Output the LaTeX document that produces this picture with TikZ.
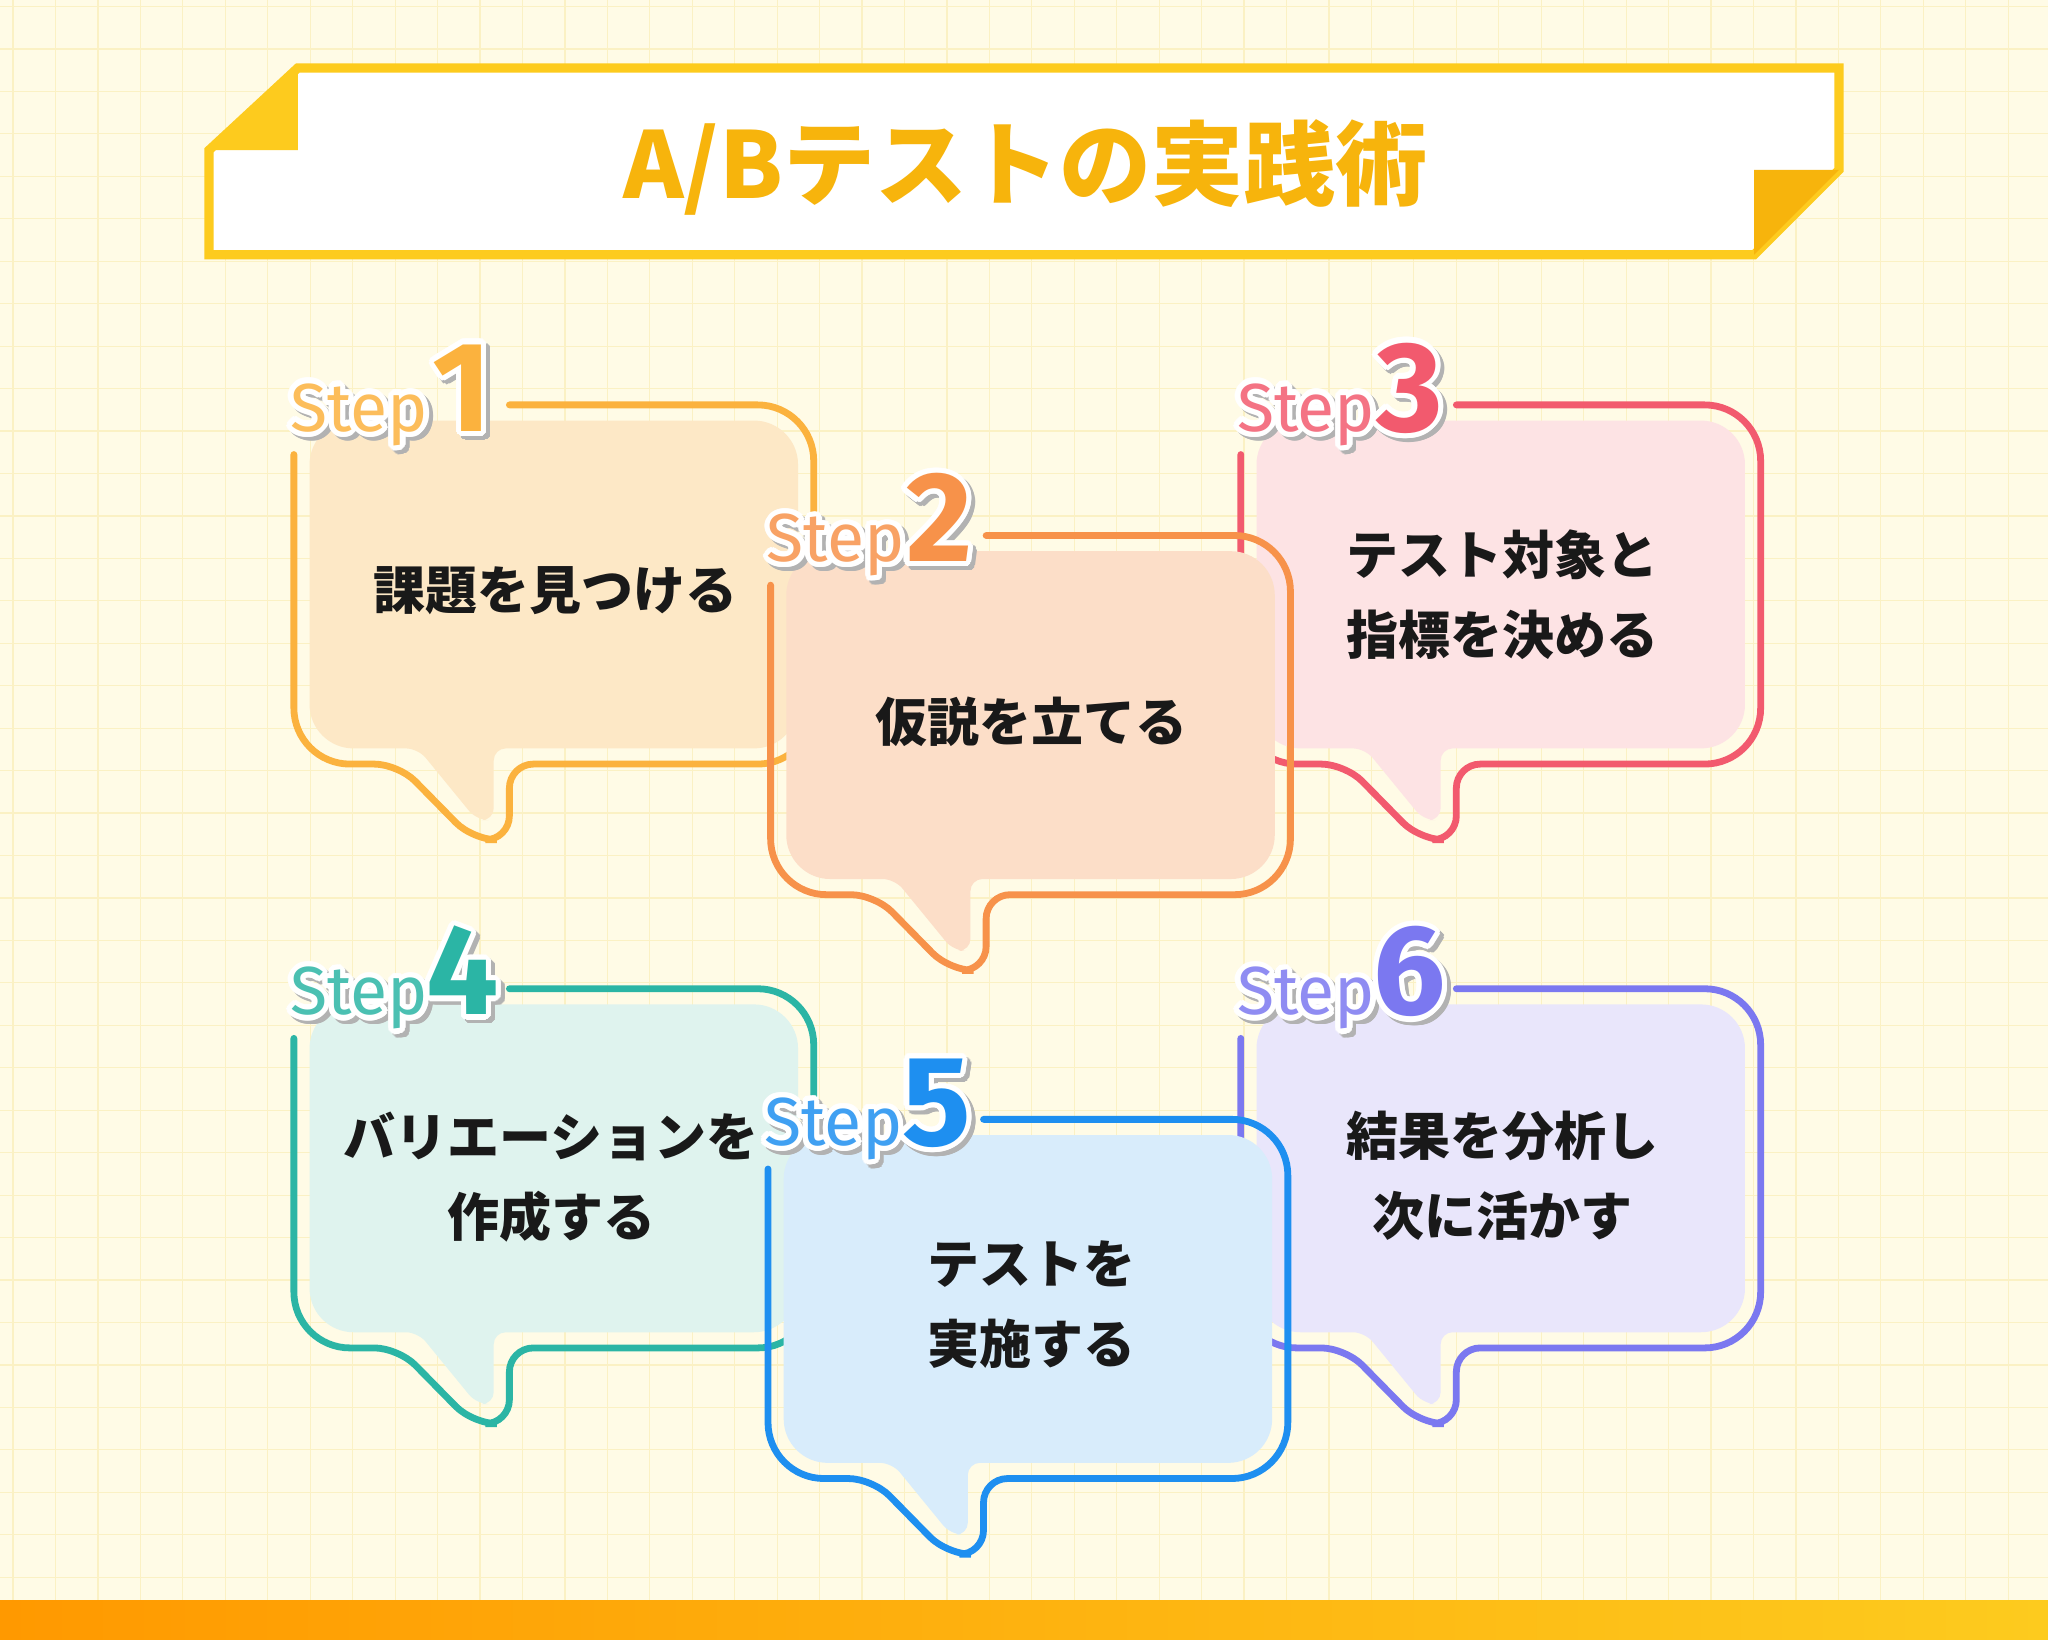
\documentclass[tikz,border=0pt]{standalone}
\usepackage{fontspec}
\setmainfont{Noto Sans CJK JP}
\newfontfamily\jp{Noto Sans CJK JP}
\newfontfamily\stepf{Fira Sans}
\usepackage[copies]{contour}
\contournumber{24}
\definecolor{bgc}{HTML}{FFFBE6}
\definecolor{gridc}{HTML}{FBF1C4}
\definecolor{tA}{HTML}{FBB23E}\definecolor{fA}{HTML}{FDE8C6}
\definecolor{tB}{HTML}{F7924A}\definecolor{fB}{HTML}{FCDEC8}
\definecolor{tC}{HTML}{F25A6E}\definecolor{fC}{HTML}{FDE3E4}
\definecolor{tD}{HTML}{2BB5A5}\definecolor{fD}{HTML}{DFF3EE}
\definecolor{tE}{HTML}{1E8FF0}\definecolor{fE}{HTML}{D8ECFB}
\definecolor{tF}{HTML}{7B78F0}\definecolor{fF}{HTML}{E9E6FB}
\definecolor{ttl}{HTML}{F7B40C}
\definecolor{frm}{HTML}{FDCB1E}
\newcommand{\bubble}[6]{%
\begin{scope}[shift={(#1,#2)}]
 \fill[#4] (12,120) [rounded corners=22] -- (12,12) -- (386,12) -- (386,263) [rounded corners=6] -- (153,263) -- (153,318) -- (140,318) -- (95,263) [rounded corners=22] -- (12,263) -- (12,120) -- cycle;
 \draw[#3,line width=3.4pt,line cap=round] (0,38) [rounded corners=28] -- (0,275) [rounded corners=12] -- (80,275) -- (137,333) -- (165,333) -- (165,275) [rounded corners=28] -- (398,275) -- (398,0) -- (165,0);
 \node[font=\stepf\fontsize{34}{34}\selectfont,text=gray!60,anchor=base] at (53,23) {\contourlength{2.6pt}\contour{gray!60}{Step}};
 \node[font=\stepf\fontsize{34}{34}\selectfont,text=#3!85,anchor=base] at (50,20) {\contourlength{2.6pt}\contour{white}{Step}};
 \node[font=\stepf\bfseries\fontsize{64}{64}\selectfont,text=gray!60,anchor=base] at (132,23) {\contourlength{2.6pt}\contour{gray!60}{#6}};
 \node[font=\stepf\bfseries\fontsize{64}{64}\selectfont,text=#3,anchor=base] at (129,20) {\contourlength{2.6pt}\contour{white}{#6}};
 \node (#5) at (200,140) {};
\end{scope}}
\tikzset{body/.style={font=\jp\bfseries\fontsize{26}{40}\selectfont,align=center,text=black!90}}
\begin{document}
\begin{tikzpicture}[x=0.653pt,y=-0.653pt]
\fill[bgc] (0,0) rectangle (1568,1255);
\useasboundingbox (0,0) rectangle (1568,1255);
\foreach \i in {0,...,48} \draw[gridc,line width=0.6pt] (\i*32.5+10,0) -- (\i*32.5+10,1255);
\foreach \i in {0,...,38} \draw[gridc,line width=0.6pt] (0,\i*32.5+5) -- (1568,\i*32.5+5);
% title banner
\fill[white] (228,52) -- (1408,52) -- (1408,130) -- (1343,195) -- (160,195) -- (160,115) -- cycle;
\draw[frm,line width=4.6pt,line join=miter] (228,52) -- (1408,52) -- (1408,130) -- (1343,195) -- (160,195) -- (160,115) -- cycle;
\fill[frm] (228,52) -- (228,115) -- (160,115) -- cycle;
\fill[ttl] (1343,130) -- (1408,130) -- (1343,195) -- cycle;
\node[font=\jp\bfseries\fontsize{46}{46}\selectfont,text=ttl] (title) at (785,128) {A/Bテストの実践術};
% bubbles
\bubble{225}{310}{tA}{fA}{b1}{1}
\bubble{950}{310}{tC}{fC}{b3}{3}
\bubble{590}{410}{tB}{fB}{b2}{2}
\bubble{225}{757}{tD}{fD}{b4}{4}
\bubble{950}{757}{tF}{fF}{b6}{6}
\bubble{588}{857}{tE}{fE}{b5}{5}
\node[body] (t1) at (425,452) {課題を見つける};
\node[body] (t2) at (790,553) {仮説を立てる};
\node[body] (t3) at (1150,455) {テスト対象と\\指標を決める};
\node[body] (t4) at (422,901) {バリエーションを\\作成する};
\node[body] (t5) at (790,999) {テストを\\実施する};
\node[body] (t6) at (1150,900) {結果を分析し\\次に活かす};
% bottom bar
\shade[left color=orange!80!yellow,right color=frm] (0,1225) rectangle (1568,1255);
\end{tikzpicture}
\end{document}
